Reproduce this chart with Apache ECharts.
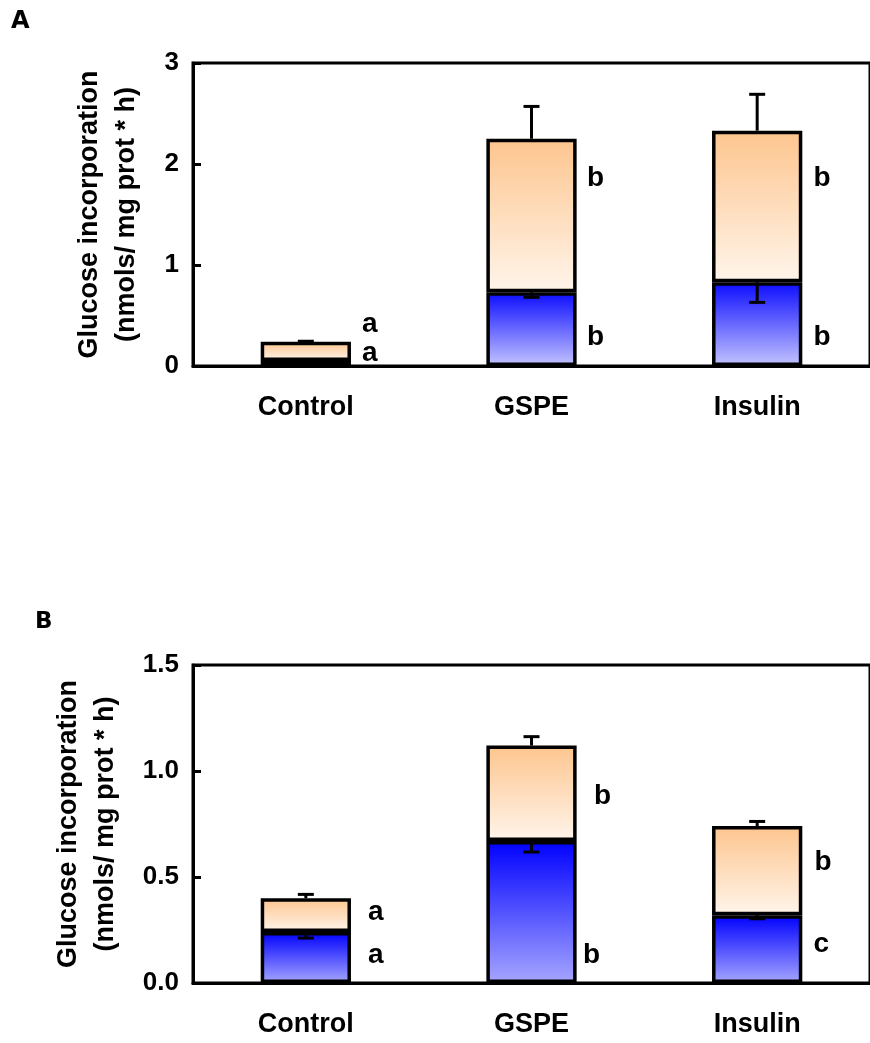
<!DOCTYPE html>
<html><head><meta charset="utf-8">
<script src="https://cdn.jsdelivr.net/npm/echarts@6/dist/echarts.min.js"></script>
<style>html,body{margin:0;padding:0;background:#fff}#c{width:870px;height:1043px}</style>
</head><body><div id="c"></div>
<script>
// ---------- data ----------
const categories = ['Control', 'GSPE', 'Insulin'];

// Panel A
const aBlue = [0.05, 0.73, 0.83];
const aTotal = [0.24, 2.25, 2.33];
const aBlueErr = [0.01, 0.05, 0.20];
const aTotalErr = [0.005, 0.32, 0.36];
const aUpperLetters = ['a', 'b', 'b'];
const aLowerLetters = ['a', 'b', 'b'];
const aUpperLetterAt = [0.41, 1.86, 1.86];
const aLowerLetterAt = [0.13, 0.28, 0.28];
const aTicks = [0, 1, 2, 3];

// Panel B
const bBlue = [0.24, 0.67, 0.32];
const bTotal = [0.40, 1.12, 0.74];
const bBlueErr = [0.028, 0.052, 0.017];
const bTotalErr = [0.018, 0.042, 0.022];
const bUpperLetters = ['a', 'b', 'b'];
const bLowerLetters = ['a', 'b', 'c'];
const bUpperLetterAt = [0.333, 0.883, 0.569];
const bLowerLetterAt = [0.129, 0.129, 0.181];
const bTicks = [0, 0.5, 1.0, 1.5];

const yTitle = 'Glucose incorporation\n(nmols/ mg prot * h)';

// ---------- styles ----------
const FONT = 'Liberation Sans, Arial, sans-serif';
function grad(c0, c1) {
  return { type: 'linear', x: 0, y: 0, x2: 0, y2: 1, colorStops: [{ offset: 0, color: c0 }, { offset: 1, color: c1 }] };
}
const orange = grad('#fdc58e', '#fff5eb');
const blueA = grad('#0c0cff', '#c4c4ff');
const blueB = grad('#0000ff', '#a6a6ff');

function errRender(params, api) {
  const x = api.value(0), v = api.value(1), e = api.value(2), d = api.value(3);
  const p0 = api.coord([x, v]);
  const p1 = api.coord([x, v + d * e]);
  const hw = 8;
  const st = { stroke: '#000', lineWidth: 3 };
  return { type: 'group', children: [
    { type: 'line', shape: { x1: p0[0], y1: p0[1], x2: p1[0], y2: p1[1] }, style: st },
    { type: 'line', shape: { x1: p1[0] - hw, y1: p1[1], x2: p1[0] + hw, y2: p1[1] }, style: st }
  ] };
}
function letterSeries(gi, at, letters, dx) {
  return {
    type: 'custom', xAxisIndex: gi, yAxisIndex: gi, z: 10,
    data: at.map((v, i) => [i, v]),
    renderItem: function (params, api) {
      const p = api.coord([api.value(0), api.value(1)]);
      return { type: 'text', x: p[0] + dx[params.dataIndex], y: p[1],
        style: { text: letters[params.dataIndex], fontSize: 28, fontWeight: 'bold', fontFamily: FONT,
          fill: '#000', align: 'center', verticalAlign: 'middle' } };
    }
  };
}
function errSeries(gi, base, err, dir) {
  return { type: 'custom', xAxisIndex: gi, yAxisIndex: gi, z: 9,
    data: base.map((v, i) => [i, v, err[i], dir]), renderItem: errRender };
}
function barSeries(gi, data, color, stack) {
  return { type: 'bar', xAxisIndex: gi, yAxisIndex: gi, stack: stack, data: data, barWidth: '40%',
    itemStyle: { color: color, borderColor: '#000', borderWidth: 3.5 } };
}

const chart = echarts.init(document.getElementById('c'), null, { renderer: 'canvas' });

const grids = [
  { left: 193, top: 63, width: 684, height: 303, show: true, borderColor: '#000', borderWidth: 3 },
  { left: 193, top: 665, width: 684, height: 318, show: true, borderColor: '#000', borderWidth: 3 }
];
function xAx(gi) {
  return { type: 'category', gridIndex: gi, data: categories,
    axisLine: { lineStyle: { color: '#000', width: 3 } }, axisTick: { show: false },
    axisLabel: { color: '#000', fontSize: 27, fontWeight: 'bold', fontFamily: FONT, margin: 28 } };
}
function yAx(gi, ticks, gap, dec) {
  return { type: 'value', gridIndex: gi, min: ticks[0], max: ticks[ticks.length - 1], interval: ticks[1] - ticks[0],
    splitLine: { show: false },
    axisLine: { show: true, lineStyle: { color: '#000', width: 3 } },
    axisTick: { show: true, inside: true, length: 8, lineStyle: { color: '#000', width: 3 } },
    axisLabel: { color: '#000', fontSize: 26, fontWeight: 'bold', fontFamily: FONT, margin: 14,
      formatter: v => v.toFixed(dec) },
    name: yTitle, nameLocation: 'middle', nameRotate: 90, nameGap: gap,
    nameTextStyle: { color: '#000', fontSize: 27, fontWeight: 'bold', fontFamily: FONT, lineHeight: 37 } };
}

chart.setOption({
  animation: false,
  backgroundColor: '#fff',
  grid: grids,
  xAxis: [xAx(0), xAx(1)],
  yAxis: [yAx(0, aTicks, 48, 0), yAx(1, bTicks, 69, 1)],
  graphic: [
    { type: 'text', left: 11, top: 10, style: { text: 'A', fontSize: 24, fontWeight: 900, fontFamily: 'DejaVu Sans', fill: '#000' } },
    { type: 'text', left: 35, top: 611, style: { text: 'B', fontSize: 23, fontWeight: 900, fontFamily: 'DejaVu Sans', fill: '#000' } }
  ],
  series: [
    barSeries(0, aBlue, blueA, 'a'),
    barSeries(0, aTotal.map((t, i) => +(t - aBlue[i]).toFixed(3)), orange, 'a'),
    errSeries(0, aTotal, aTotalErr, 1),
    errSeries(0, aBlue, aBlueErr, -1),
    letterSeries(0, aUpperLetterAt, aUpperLetters, [64, 64, 65]),
    letterSeries(0, aLowerLetterAt, aLowerLetters, [64, 64, 65]),
    barSeries(1, bBlue, blueB, 'b'),
    barSeries(1, bTotal.map((t, i) => +(t - bBlue[i]).toFixed(3)), orange, 'b'),
    errSeries(1, bTotal, bTotalErr, 1),
    errSeries(1, bBlue, bBlueErr, -1),
    letterSeries(1, bUpperLetterAt, bUpperLetters, [70, 71, 66]),
    letterSeries(1, bLowerLetterAt, bLowerLetters, [70, 60, 64])
  ]
});
</script></body></html>
